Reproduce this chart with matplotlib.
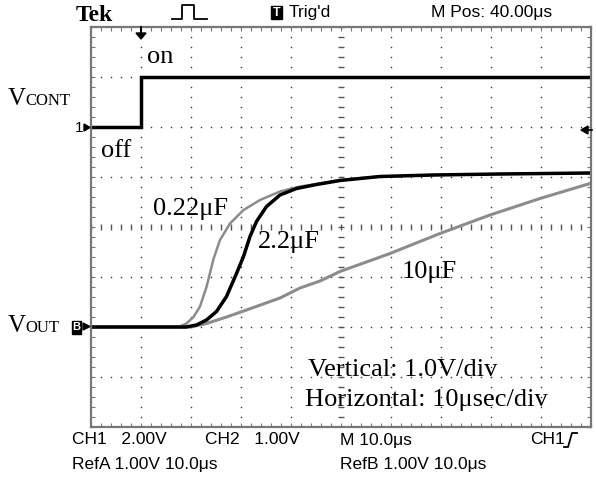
import numpy as np
import matplotlib.pyplot as plt
from matplotlib.patches import Rectangle, Polygon

# time axis in microseconds (10 us/div), screen is 100 us wide
t_cont = [0, 10, 10, 100]
v_cont = [0, 0, 2, 2]          # volts, CH1 at 2 V/div

t_22u = [0, 19.0, 21.1, 23.1, 25.1, 27.1, 29.1, 30.5, 31.8, 33.1, 35.1, 37.8, 41.1, 45.1, 49.8, 57.8, 68.4, 81.8, 100]
v_22u = [0, 0.0, 0.04, 0.14, 0.31, 0.61, 1.07, 1.41, 1.81, 2.11, 2.41, 2.64, 2.77, 2.85, 2.93, 3.01, 3.04, 3.06, 3.08]

t_022u = [0, 17.5, 19.1, 20.5, 21.8, 23.1, 24.5, 25.8, 27.8, 30.5, 33.8, 37.8, 41.8, 45.8, 49.8, 57.8, 68.4, 81.8, 100]
v_022u = [0, 0.0, 0.07, 0.2, 0.41, 0.8, 1.36, 1.74, 2.07, 2.34, 2.54, 2.71, 2.81, 2.87, 2.94, 3.01, 3.04, 3.06, 3.08]

t_10u = [0, 20.0, 23.1, 27.1, 31.1, 37.8, 41.8, 45.8, 49.8, 59.8, 69.8, 79.8, 89.8, 99.8]
v_10u = [0, 0.0, 0.07, 0.2, 0.34, 0.58, 0.78, 0.92, 1.11, 1.47, 1.87, 2.24, 2.57, 2.87]

cont_pos = 6   # divisions from bottom for CH1 ground
out_pos = 2    # divisions from bottom for ref ground

W, H = 596, 479
fig = plt.figure(figsize=(W / 100, H / 100), dpi=100)
ax = fig.add_axes([91 / W, (H - 427) / H, 500 / W, 400 / H])
ax.set_xlim(0, 100)
ax.set_ylim(0, 8)

serif = 'Liberation Serif'
narrow = ['Liberation Sans Narrow', 'Liberation Sans']

# graticule dots
for gx in range(10, 100, 10):
    if gx == 50:
        continue
    ys = np.arange(0, 8.01, 0.2)
    ax.plot([gx] * len(ys), ys, ls='none', marker='s', ms=1.0, color='#333', mew=0)
for gy in range(1, 8):
    if gy == 4:
        continue
    xs = np.arange(0, 100.01, 2)
    ax.plot(xs, [gy] * len(xs), ls='none', marker='s', ms=1.0, color='#333', mew=0)
# center cross with tick marks
xs = np.arange(0, 100.01, 2)
ax.plot(xs, [4] * len(xs), ls='none', marker='|', ms=5, mew=1, color='#555')
ys = np.arange(0, 8.01, 0.2)
ax.plot([50] * len(ys), ys, ls='none', marker='_', ms=5, mew=1, color='#555')

# traces
ax.plot(t_cont, np.array(v_cont) / 2 + cont_pos, color='black', lw=2.5, solid_joinstyle='miter')
ax.plot(t_10u, np.array(v_10u) + out_pos, color='#8c8c8c', lw=2.2)
ax.plot(t_022u, np.array(v_022u) + out_pos, color='#8c8c8c', lw=1.8)
ax.plot(t_22u, np.array(v_22u) + out_pos, color='black', lw=2.5)

ax.set_xticks(np.arange(0, 100.1, 2))
ax.set_yticks(np.arange(0, 8.01, 0.2))
ax.tick_params(direction='in', length=3, width=0.8, color='#777',
               top=True, right=True, labelbottom=False, labelleft=False)
for s in ax.spines.values():
    s.set_color('#777')
    s.set_linewidth(1.6)


def ftext(x, y, s, **kw):
    fig.text(x / W, 1 - y / H, s, **kw)


def fx(v):
    return np.array(v) / W


def fy(v):
    return 1 - np.array(v) / H


# header
ftext(76, 21, 'Tek', family=serif, weight='bold', fontsize=17, va='baseline')
fig.add_artist(plt.Line2D(fx([172, 182, 182, 194, 194, 207]), fy([19, 19, 5, 5, 19, 19]),
                          color='black', lw=1.3))
fig.add_artist(Rectangle((271 / W, 1 - 19 / H), 11 / W, 13 / H, color='black'))
ftext(276.5, 12.5, 'T', family=narrow, color='white', fontsize=9, weight='bold', ha='center', va='center')
ftext(289, 12, "Trig'd", family=narrow, fontsize=12.5, va='center')
ftext(431, 12, 'M Pos: 40.00\u03bcs', family=narrow, fontsize=12.5, va='center')

# footer
ftext(72, 440, 'CH1   2.00V', family=narrow, fontsize=12.5, va='center')
ftext(205, 440, 'CH2   1.00V', family=narrow, fontsize=12.5, va='center')
ftext(340, 440, 'M 10.0\u03bcs', family=narrow, fontsize=12.5, va='center')
ftext(530, 440, 'CH1', family=narrow, fontsize=12.5, va='center')
fig.add_artist(plt.Line2D(fx([564, 568, 572, 577]), fy([447, 447, 433, 433]), color='black', lw=1.3))
ftext(72, 465, 'RefA 1.00V 10.0\u03bcs', family=narrow, fontsize=12.5, va='center')
ftext(340, 465, 'RefB 1.00V 10.0\u03bcs', family=narrow, fontsize=12.5, va='center')

# channel markers
ftext(79, 128, '1', family=narrow, fontsize=11, va='center', ha='center')
fig.add_artist(Polygon(list(zip(fx([84, 90, 84]), fy([124, 127.5, 131]))), closed=True, color='black'))
fig.add_artist(Rectangle((72 / W, 1 - 334 / H), 9 / W, 13 / H, color='black'))
ftext(76.5, 327.5, 'B', family=narrow, fontsize=8, color='white', weight='bold', va='center', ha='center')
fig.add_artist(Polygon(list(zip(fx([83, 90, 83]), fy([323, 326.5, 330]))), closed=True, color='black'))
# trigger position (top) and trigger level (right)
fig.add_artist(plt.Line2D(fx([141, 141]), fy([27, 34]), color='black', lw=1.5))
fig.add_artist(Polygon(list(zip(fx([136, 146, 141]), fy([33, 33, 39]))), closed=True, color='black'))
fig.add_artist(Polygon(list(zip(fx([588, 588, 581]), fy([126, 134, 130]))), closed=True, color='black'))
fig.add_artist(plt.Line2D(fx([586, 592]), fy([130, 130]), color='black', lw=1.2))

# labels
ftext(8, 105, 'V', family=serif, fontsize=18, va='baseline')
ftext(25, 105, 'CONT', family=serif, fontsize=12, va='baseline')
ftext(8, 332, 'V', family=serif, fontsize=18, va='baseline')
ftext(25, 332, 'OUT', family=serif, fontsize=12, va='baseline')
ftext(147, 63, 'on', family=serif, fontsize=19, va='baseline')
ftext(101, 157, 'off', family=serif, fontsize=19, va='baseline')
ftext(153, 215, '0.22\u03bcF', family=serif, fontsize=19, va='baseline')
ftext(258, 248, '2.2\u03bcF', family=serif, fontsize=19, va='baseline')
ftext(402, 278, '10\u03bcF', family=serif, fontsize=19, va='baseline')
ftext(308, 376, 'Vertical: 1.0V/div', family=serif, fontsize=19, va='baseline')
ftext(305, 406, 'Horizontal: 10\u03bcsec/div', family=serif, fontsize=19, va='baseline')

fig.savefig('out.png', dpi=100)
